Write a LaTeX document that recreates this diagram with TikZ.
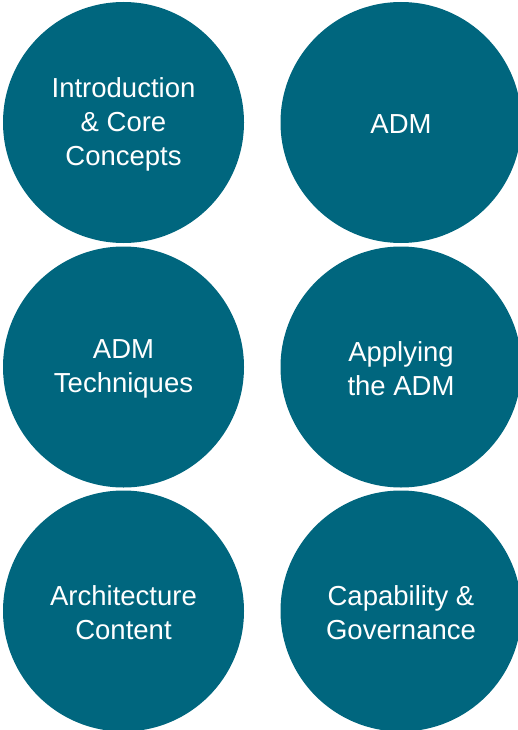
\documentclass[tikz,border=0pt]{standalone}
\usepackage{fontspec}
\setmainfont{Liberation Sans}
\definecolor{teal}{RGB}{0,102,126}
\begin{document}
\begin{tikzpicture}[x=1pt,y=-1pt,
  topic/.style={circle,fill=teal,draw=none,minimum size=241pt,inner sep=0pt},
  caption/.style={text=white,align=center,inner sep=0pt,yshift=-2pt,
    font=\fontsize{27.5pt}{34pt}\selectfont}]
\useasboundingbox (0,0) rectangle (518,730);
\clip (0,0) rectangle (518,730);
\node[topic] (intro) at (123.5,122.5) {};
\node[topic] (adm) at (401,122.5) {};
\node[topic] (tech) at (123.5,367) {};
\node[topic] (apply) at (401,367) {};
\node[topic] (content) at (123.5,611) {};
\node[topic] (gov) at (401,611) {};
\node[caption] (introtxt) at (intro.center) {Introduction\\\& Core\\Concepts};
\node[caption] (admtxt) at (adm.center) {ADM};
\node[caption] (techtxt) at (tech.center) {ADM\\Techniques};
\node[caption] (applytxt) at (apply.center) {Applying\\the ADM};
\node[caption] (contenttxt) at (content.center) {Architecture\\Content};
\node[caption] (govtxt) at (gov.center) {Capability \&\\Governance};
\end{tikzpicture}
\end{document}
